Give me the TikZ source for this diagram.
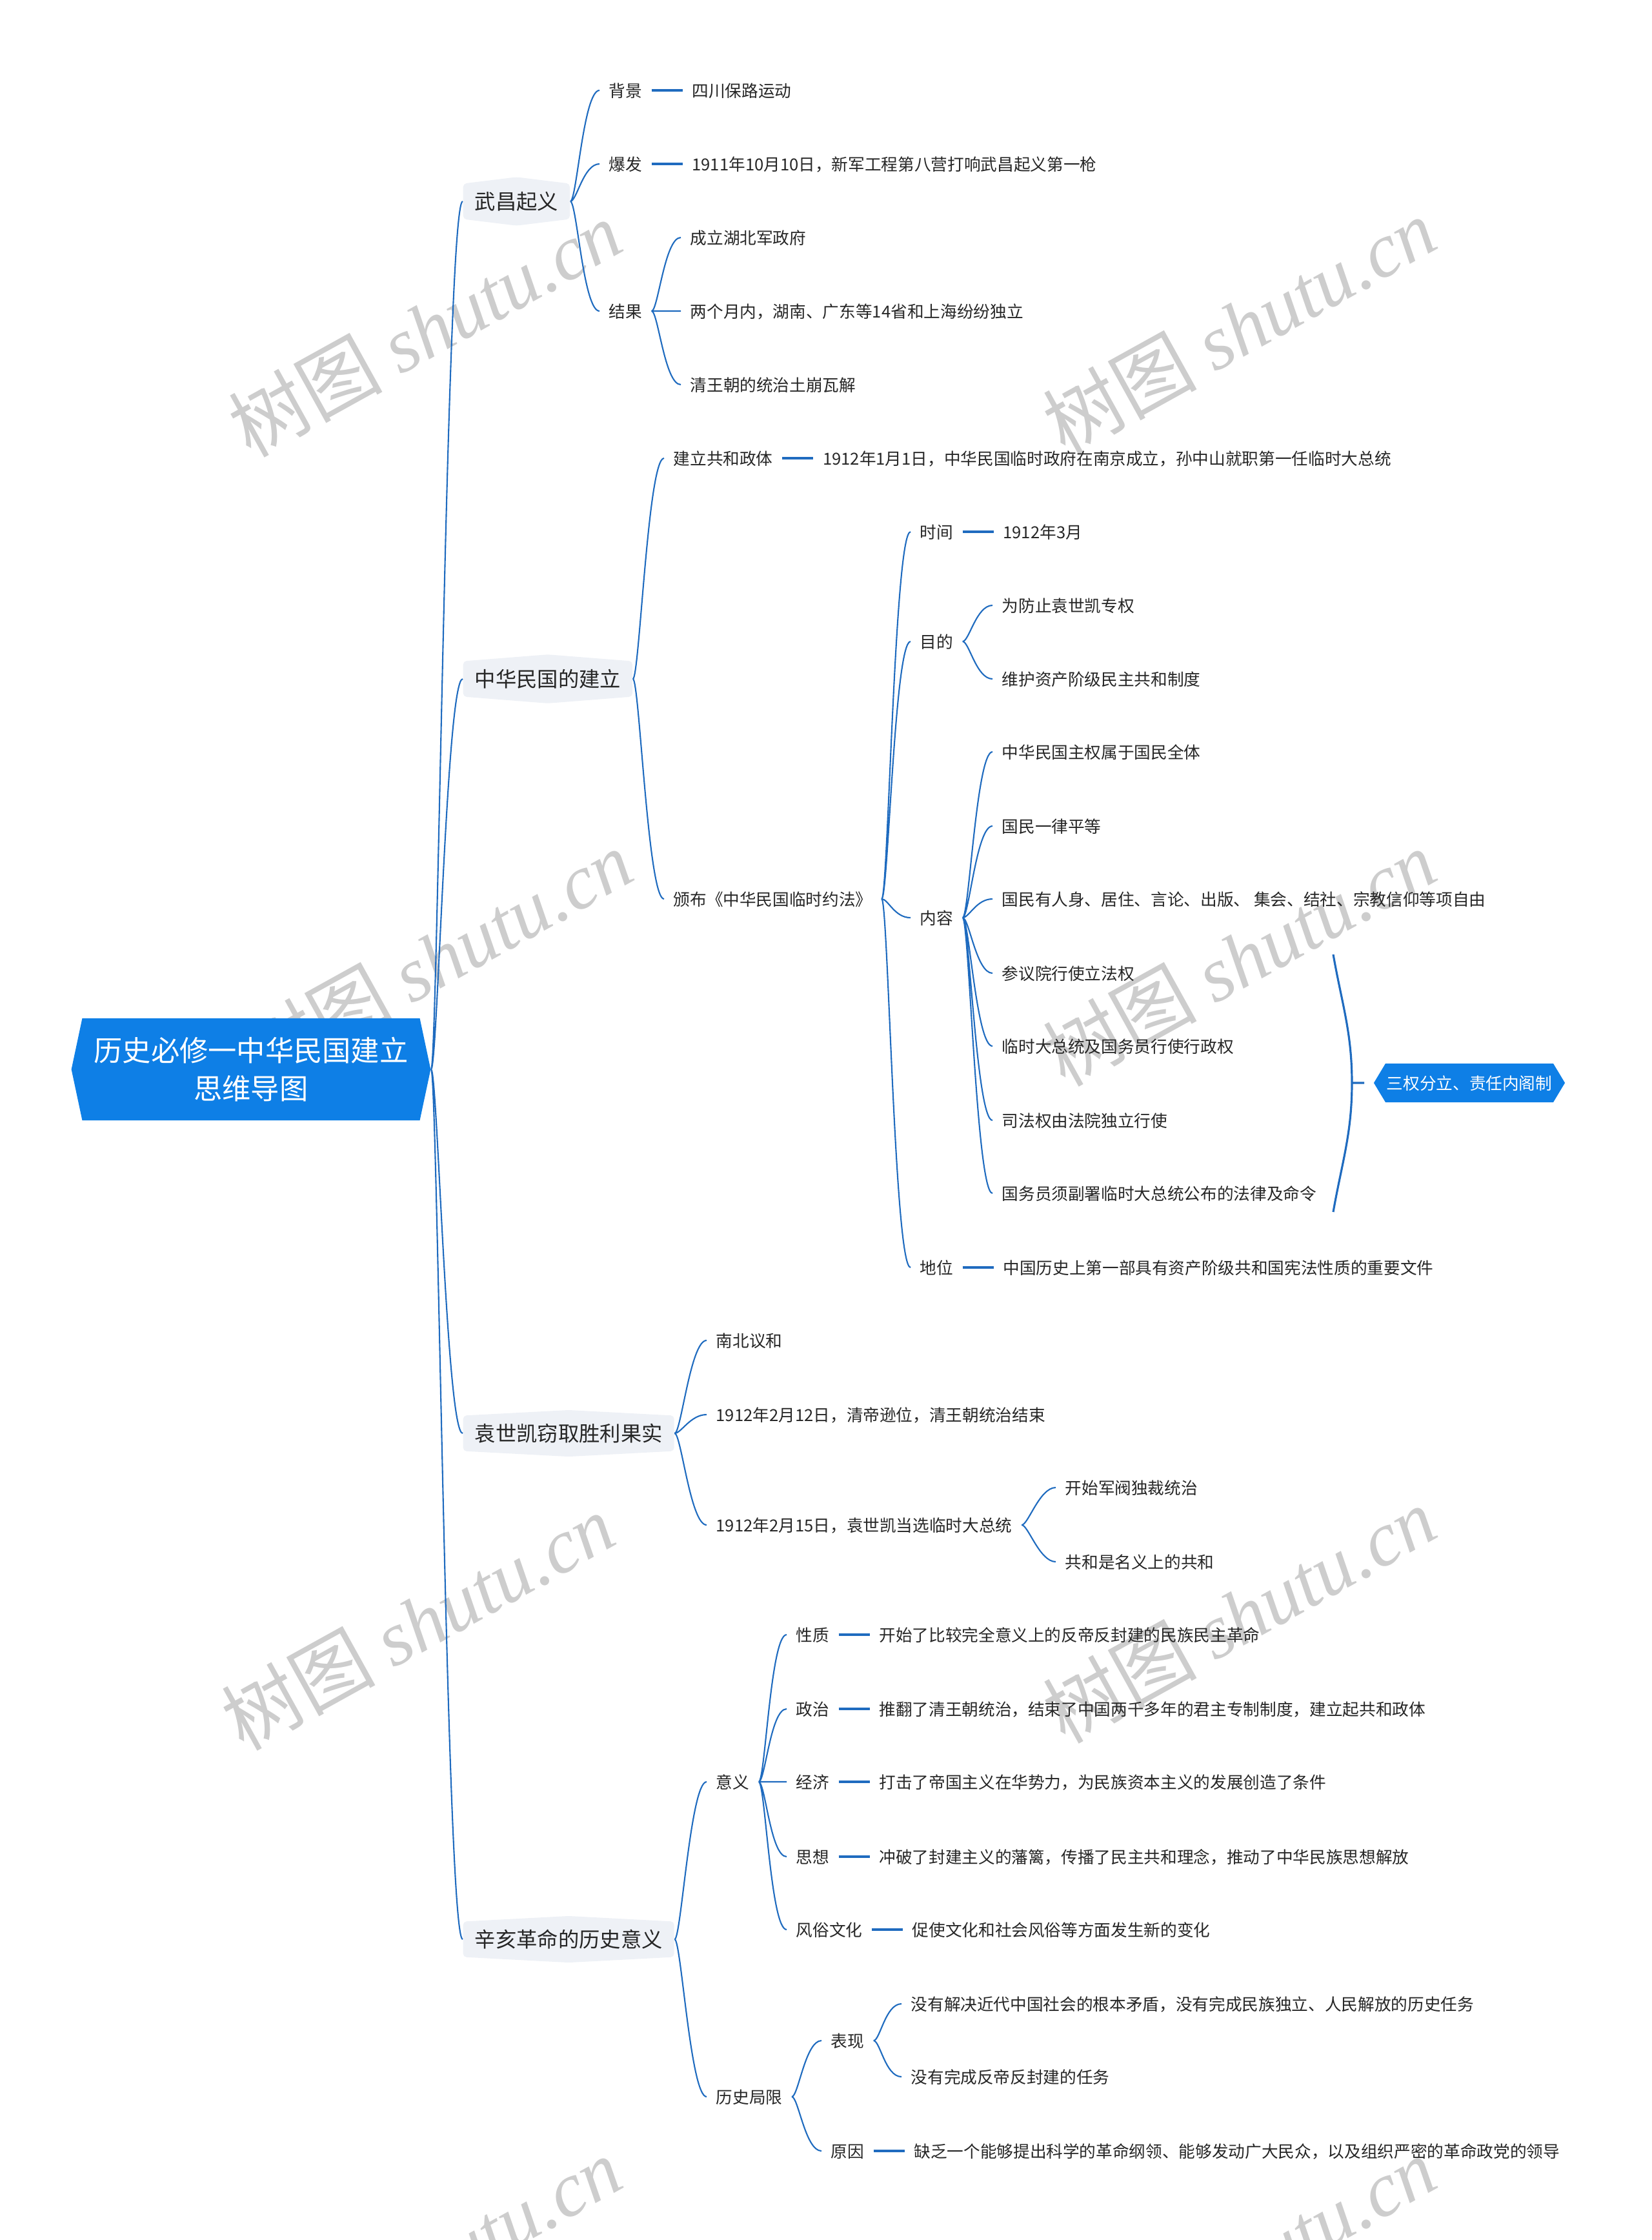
\documentclass[tikz,border=0pt]{standalone}
\usepackage{fontspec}
\setmainfont{Noto Sans CJK SC}
\newfontfamily\wmfont{Liberation Serif}
\usepackage{tikz}
\usetikzlibrary{positioning, shapes.symbols}
\definecolor{mapRoot}{HTML}{0E7FE6}
\definecolor{mapLine}{HTML}{1F6BBF}
\definecolor{mapTopic}{HTML}{EEF1F6}
\definecolor{mapText}{HTML}{262626}
\definecolor{mapMark}{HTML}{CDCDCD}

\begin{document}
\begin{tikzpicture}[
  font=\fontsize{7.3}{9}\selectfont,
  root/.style={signal, signal to=west and east, signal pointer angle=156, fill=mapRoot, text=white,
               font=\fontsize{12.6}{16.8}\selectfont, align=center, inner xsep=0.18cm, inner ysep=0.29cm},
  topic/.style={signal, signal to=north and south, signal pointer angle=171, fill=mapTopic,
                rounded corners=1.5pt, text=mapText, font=\fontsize{9.2}{11}\selectfont,
                text height=0.29cm, text depth=0.05cm, inner xsep=0.18cm, inner ysep=0.105cm, anchor=west},
  leaf/.style={text=mapText, text height=0.23cm, text depth=0.03cm, inner xsep=0.14cm, inner ysep=0.05cm,
               anchor=west},
  note/.style={signal, signal to=west and east, signal pointer angle=118, fill=mapRoot, text=white,
               text height=0.23cm, text depth=0.03cm, inner xsep=0.5pt, inner ysep=0.17cm},
  wmark/.style={text=mapMark, rotate=29, font=\fontsize{34}{34}\selectfont},
  link/.style={draw=mapLine, line width=0.6pt, out=0, in=180, out distance=1mm, in distance=2.5mm},
  stem/.style={draw=mapLine, line width=0.9pt},
  bracketline/.style={draw=mapLine, line width=0.9pt},
  node distance=0.48cm
]
\useasboundingbox (0,0) rectangle (25.6,-34.71);

\foreach \wx/\wy [count=\i] in {6.58/-5.09, 19.20/-5.05, 6.75/-14.84, 19.20/-14.84,
                                6.47/-25.13, 19.20/-25.02, 6.58/-35.10, 19.20/-35.10}
  \node[wmark] (wm\i) at (\wx,\wy) {树图 {\wmfont\itshape shutu.cn}};

\node[root] (root) at (3.89,-16.57) {历史必修一中华民国建立\\思维导图};

\node[topic, signal pointer angle=166] (wc) at (7.17,-3.12) {武昌起义};
\node[topic] (zh) at (7.17,-10.52) {中华民国的建立};
\node[topic, signal pointer angle=174] (ysk) at (7.17,-22.21) {袁世凯窃取胜利果实};
\node[topic, signal pointer angle=174] (xh) at (7.17,-30.05) {辛亥革命的历史意义};

\node[leaf] (bg) at (9.29,-1.40) {背景};
\node[leaf, right=of bg] (bgA) {四川保路运动};
\node[leaf] (bf) at (9.29,-2.54) {爆发};
\node[leaf, right=of bf] (bfA) {1911年10月10日，新军工程第八营打响武昌起义第一枪};
\node[leaf] (jg) at (9.29,-4.82) {结果};
\node[leaf] (jgA) at (10.55,-3.68) {成立湖北军政府};
\node[leaf] (jgB) at (10.55,-4.82) {两个月内，湖南、广东等14省和上海纷纷独立};
\node[leaf] (jgC) at (10.55,-5.96) {清王朝的统治土崩瓦解};

\node[leaf] (gh) at (10.29,-7.10) {建立共和政体};
\node[leaf, right=of gh] (ghA) {1912年1月1日，中华民国临时政府在南京成立，孙中山就职第一任临时大总统};
\node[leaf] (bb) at (10.29,-13.93) {颁布《中华民国临时约法》};
\node[leaf] (sj) at (14.11,-8.24) {时间};
\node[leaf, right=of sj] (sjA) {1912年3月};
\node[leaf] (md) at (14.11,-9.94) {目的};
\node[leaf] (mdA) at (15.38,-9.38) {为防止袁世凯专权};
\node[leaf] (mdB) at (15.38,-10.52) {维护资产阶级民主共和制度};
\node[leaf] (nr) at (14.11,-14.22) {内容};
\node[leaf] (nrA) at (15.38,-11.65) {中华民国主权属于国民全体};
\node[leaf] (nrB) at (15.38,-12.80) {国民一律平等};
\node[leaf] (nrC) at (15.38,-13.93) {国民有人身、居住、言论、出版、 集会、结社、宗教信仰等项自由};
\node[leaf] (nrD) at (15.38,-15.08) {参议院行使立法权};
\node[leaf] (nrE) at (15.38,-16.21) {临时大总统及国务员行使行政权};
\node[leaf] (nrF) at (15.38,-17.36) {司法权由法院独立行使};
\node[leaf] (nrG) at (15.38,-18.49) {国务员须副署临时大总统公布的法律及命令};
\node[leaf] (dw) at (14.11,-19.64) {地位};
\node[leaf, right=of dw] (dwA) {中国历史上第一部具有资产阶级共和国宪法性质的重要文件};

\node[note] (sq) at (22.77,-16.78) {三权分立、责任内阁制};
\coordinate (brtop) at (20.66,-14.79);
\coordinate (brmid) at (20.95,-16.78);
\coordinate (brbot) at (20.66,-18.78);

\node[leaf] (yA) at (10.95,-20.77) {南北议和};
\node[leaf] (yB) at (10.95,-21.92) {1912年2月12日，清帝逊位，清王朝统治结束};
\node[leaf] (yC) at (10.95,-23.63) {1912年2月15日，袁世凯当选临时大总统};
\node[leaf] (yCa) at (16.36,-23.05) {开始军阀独裁统治};
\node[leaf] (yCb) at (16.36,-24.20) {共和是名义上的共和};

\node[leaf] (yy) at (10.95,-27.61) {意义};
\node[leaf] (xz) at (12.19,-25.33) {性质};
\node[leaf, right=of xz] (xzA) {开始了比较完全意义上的反帝反封建的民族民主革命};
\node[leaf] (zz) at (12.19,-26.48) {政治};
\node[leaf, right=of zz] (zzA) {推翻了清王朝统治，结束了中国两千多年的君主专制制度，建立起共和政体};
\node[leaf] (jj) at (12.19,-27.61) {经济};
\node[leaf, right=of jj] (jjA) {打击了帝国主义在华势力，为民族资本主义的发展创造了条件};
\node[leaf] (sx) at (12.19,-28.77) {思想};
\node[leaf, right=of sx] (sxA) {冲破了封建主义的藩篱，传播了民主共和理念，推动了中华民族思想解放};
\node[leaf] (fs) at (12.19,-29.90) {风俗文化};
\node[leaf, right=of fs] (fsA) {促使文化和社会风俗等方面发生新的变化};
\node[leaf] (jx) at (10.95,-32.49) {历史局限};
\node[leaf] (bx) at (12.73,-31.62) {表现};
\node[leaf] (bxA) at (13.97,-31.05) {没有解决近代中国社会的根本矛盾，没有完成民族独立、人民解放的历史任务};
\node[leaf] (bxB) at (13.97,-32.18) {没有完成反帝反封建的任务};
\node[leaf] (yx) at (12.73,-33.33) {原因};
\node[leaf, right=of yx] (yxA) {缺乏一个能够提出科学的革命纲领、能够发动广大民众，以及组织严密的革命政党的领导};

\draw[link] (root) to (wc) (root) to (zh) (root) to (ysk) (root) to (xh);
\draw[link] (wc) to (bg) (wc) to (bf) (wc) to (jg);
\draw[link] (jg) to (jgA) (jg) to (jgB) (jg) to (jgC);
\draw[link] (zh) to (gh) (zh) to (bb);
\draw[link] (bb) to (sj) (bb) to (md) (bb) to (nr) (bb) to (dw);
\draw[link] (md) to (mdA) (md) to (mdB);
\draw[link] (nr) to (nrA) (nr) to (nrB) (nr) to (nrC) (nr) to (nrD) (nr) to (nrE) (nr) to (nrF) (nr) to (nrG);
\draw[link] (ysk) to (yA) (ysk) to (yB) (ysk) to (yC);
\draw[link] (yC) to (yCa) (yC) to (yCb);
\draw[link] (xh) to (yy) (xh) to (jx);
\draw[link] (yy) to (xz) (yy) to (zz) (yy) to (jj) (yy) to (sx) (yy) to (fs);
\draw[link] (jx) to (bx) (jx) to (yx);
\draw[link] (bx) to (bxA) (bx) to (bxB);

\draw[stem] (bg) -- (bgA);
\draw[stem] (bf) -- (bfA);
\draw[stem] (gh) -- (ghA);
\draw[stem] (sj) -- (sjA);
\draw[stem] (dw) -- (dwA);
\draw[stem] (xz) -- (xzA);
\draw[stem] (zz) -- (zzA);
\draw[stem] (jj) -- (jjA);
\draw[stem] (sx) -- (sxA);
\draw[stem] (fs) -- (fsA);
\draw[stem] (yx) -- (yxA);

\draw[bracketline] (brtop) to[out=-80,in=90] (brmid) to[out=-90,in=80] (brbot);
\draw[bracketline, shorten >=1.4mm] (brmid) -- (sq);
\end{tikzpicture}
\end{document}
